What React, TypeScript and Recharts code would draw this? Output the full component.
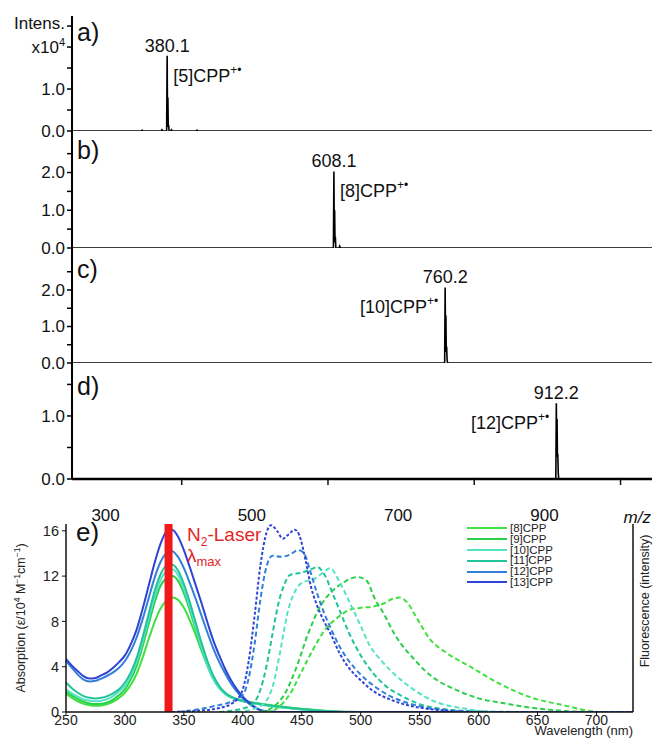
import React from 'react';
import { LineChart, Line, XAxis, YAxis, ReferenceDot, ReferenceLine, Legend } from 'recharts';

const FONT = '"Liberation Sans", Arial, Helvetica, sans-serif';

// ---------------- Mass spectra (panels a-d) ----------------
const msTicks = [300, 400, 500, 600, 700, 800, 900, 1000];
const msTickLabels = ['300', '', '500', '', '700', '', '900', ''];

const mzA = [250, 345, 346, 347, 372, 373, 374, 379.4, 380.1, 380.6, 381.1, 381.6, 382.1, 382.7, 385, 386, 387, 420, 421, 422, 1043];
const intA = [0, 0, 0.02, 0, 0, 0.03, 0, 0, 1.79, 0.25, 0.8, 0.1, 0.15, 0, 0, 0.03, 0, 0, 0.02, 0, 0];
const mzB = [250, 607.4, 608.1, 608.6, 609.1, 609.6, 610.1, 610.7, 615, 616, 617, 1043];
const intB = [0, 0, 2.03, 0.3, 1.0, 0.15, 0.3, 0, 0, 0.05, 0, 0];
const mzC = [250, 759.5, 760.2, 760.7, 761.2, 761.7, 762.2, 762.8, 763.5, 1043];
const intC = [0, 0, 2.07, 0.4, 1.3, 0.3, 0.45, 0.1, 0, 0];
const mzD = [250, 911.5, 912.2, 912.7, 913.2, 913.7, 914.2, 914.8, 915.5, 1043];
const intD = [0, 0, 1.2, 0.5, 0.95, 0.35, 0.4, 0.1, 0, 0];

const peakMz = [380.1, 608.1, 760.2, 912.2];
const peakInt = [1.79, 2.03, 2.07, 1.2];
const peakLabels = ['380.1', '608.1', '760.2', '912.2'];
const ionLabels = ['[5]CPP', '[8]CPP', '[10]CPP', '[12]CPP'];
const panelLetters = ['a)', 'b)', 'c)', 'd)'];

// ---------------- UV-vis / fluorescence (panel e) ----------------
const cppNames = ['[8]CPP', '[9]CPP', '[10]CPP', '[11]CPP', '[12]CPP', '[13]CPP'];
const cppColors = ['#3fe03f', '#2ccf4c', '#55e3c6', '#22c39b', '#2f80d6', '#2f44d6'];
const wlTicks = [250, 300, 350, 400, 450, 500, 550, 600, 650, 700];
const absTicks = [0, 4, 8, 12, 16];
const laserWl = 337;

const absWl = [250, 255, 260, 265, 270, 275, 280, 285, 290, 295, 300, 305, 310, 315, 320, 325, 330, 335, 340, 345, 350, 355, 360, 365, 370, 375, 380, 385, 390, 395, 400, 405, 410, 415, 420, 425, 430, 440, 450, 460, 470, 480, 490, 500, 731];
const abs8 = [1.6, 1.25, 0.95, 0.72, 0.6, 0.55, 0.58, 0.7, 0.92, 1.25, 1.7, 2.4, 3.4, 4.8, 6.4, 7.9, 9.1, 9.8, 10.1, 9.9, 9.2, 8.1, 6.8, 5.4, 4.1, 3.0, 2.2, 1.7, 1.35, 1.15, 1.0, 0.9, 0.82, 0.74, 0.66, 0.58, 0.52, 0.4, 0.29, 0.19, 0.11, 0.05, 0.02, 0, 0];
const abs9 = [1.8, 1.45, 1.15, 0.9, 0.75, 0.7, 0.72, 0.85, 1.1, 1.5, 2.0, 2.9, 4.1, 5.8, 7.7, 9.6, 11.1, 11.8, 12.0, 11.6, 10.5, 9.0, 7.3, 5.6, 4.1, 2.9, 2.1, 1.6, 1.3, 1.1, 0.95, 0.85, 0.76, 0.68, 0.6, 0.53, 0.46, 0.35, 0.24, 0.15, 0.08, 0.03, 0, 0, 0];
const abs10 = [2.0, 1.65, 1.35, 1.1, 1.0, 0.95, 1.0, 1.15, 1.4, 1.8, 2.3, 3.2, 4.5, 6.2, 8.2, 10.1, 11.6, 12.4, 12.6, 12.1, 10.9, 9.3, 7.5, 5.7, 4.1, 2.9, 2.1, 1.6, 1.3, 1.1, 0.95, 0.85, 0.75, 0.66, 0.58, 0.5, 0.44, 0.33, 0.22, 0.13, 0.07, 0.02, 0, 0, 0];
const abs11 = [2.6, 2.1, 1.7, 1.4, 1.25, 1.2, 1.25, 1.4, 1.65, 2.0, 2.6, 3.5, 4.8, 6.6, 8.6, 10.6, 12.1, 12.9, 13.0, 12.5, 11.3, 9.7, 7.9, 6.1, 4.5, 3.2, 2.3, 1.7, 1.35, 1.15, 1.0, 0.9, 0.8, 0.7, 0.62, 0.55, 0.48, 0.36, 0.25, 0.15, 0.08, 0.03, 0, 0, 0];
const abs12 = [4.5, 3.9, 3.3, 2.85, 2.7, 2.75, 2.95, 3.2, 3.5, 3.9, 4.5, 5.4, 6.6, 8.2, 10.0, 11.8, 13.2, 14.0, 14.2, 13.7, 12.7, 11.4, 10.0, 8.5, 7.0, 5.6, 4.4, 3.4, 2.5, 1.8, 1.2, 0.75, 0.4, 0.15, 0.05, 0.02, 0, 0, 0, 0, 0, 0, 0, 0, 0];
const abs13 = [4.7, 4.1, 3.6, 3.15, 2.95, 3.0, 3.25, 3.5, 3.9, 4.4, 5.0, 6.0, 7.3, 9.1, 11.1, 13.1, 14.8, 15.9, 16.1, 15.5, 14.3, 12.8, 11.2, 9.6, 7.9, 6.3, 5.0, 3.8, 2.8, 2.0, 1.35, 0.85, 0.45, 0.15, 0.05, 0.02, 0, 0, 0, 0, 0, 0, 0, 0, 0];
const absSeries = [abs8, abs9, abs10, abs11, abs12, abs13];

const fl8Wl = [420, 430, 440, 450, 460, 470, 480, 490, 500, 510, 520, 527, 533, 540, 547, 559, 573, 593, 616, 644, 672, 694, 705, 731];
const fl8 = [0, 0.4, 1.6, 3.6, 5.6, 7.3, 8.3, 9.0, 9.2, 9.3, 9.6, 10.0, 10.1, 9.6, 8.4, 6.4, 5.2, 4.0, 2.6, 1.3, 0.6, 0.1, 0, 0];
const fl9Wl = [415, 425, 435, 445, 455, 465, 475, 485, 492, 498, 505, 512, 520, 528, 535, 545, 555, 565, 580, 600, 620, 640, 660, 680, 700, 731];
const fl9 = [0, 0.4, 1.5, 3.8, 6.8, 9.2, 10.6, 11.4, 11.8, 11.9, 11.6, 10.0, 8.6, 7.0, 5.9, 4.7, 3.6, 2.8, 2.0, 1.2, 0.8, 0.45, 0.2, 0.05, 0, 0];
const fl10Wl = [395, 410, 420, 426, 432, 438, 445, 452, 460, 468, 474, 482, 491, 500, 508, 517, 525, 542, 559, 588, 615, 650, 731];
const fl10 = [0, 0.3, 1.0, 2.5, 5.5, 8.8, 10.8, 11.5, 11.7, 12.3, 12.7, 11.5, 9.6, 7.6, 5.8, 4.6, 3.7, 2.2, 1.1, 0.3, 0, 0, 0];
const fl11Wl = [380, 400, 410, 415, 420, 425, 430, 435, 440, 450, 458, 463, 470, 476, 482, 490, 500, 510, 520, 535, 550, 575, 600, 650, 731];
const fl11 = [0, 0.3, 0.9, 2.0, 4.0, 6.8, 9.5, 11.2, 12.1, 12.3, 12.6, 12.8, 12.0, 10.5, 9.0, 7.0, 5.0, 3.5, 2.4, 1.4, 0.7, 0.2, 0.05, 0, 0];
const fl12Wl = [345, 360, 375, 390, 400, 405, 410, 415, 420, 425, 432, 440, 447, 452, 457, 462, 468, 475, 482, 490, 500, 510, 525, 540, 555, 575, 600, 650, 731];
const fl12 = [0, 0.2, 0.5, 0.9, 1.5, 3.0, 6.0, 10.0, 12.8, 13.8, 13.7, 13.9, 14.3, 14.0, 12.5, 10.8, 9.0, 7.3, 5.8, 4.5, 3.3, 2.4, 1.4, 0.8, 0.4, 0.15, 0, 0, 0];
const fl13Wl = [340, 360, 380, 390, 395, 400, 405, 410, 415, 420, 424, 429, 434, 439, 444, 448, 453, 458, 463, 468, 475, 482, 490, 500, 510, 525, 540, 555, 575, 600, 650, 731];
const fl13 = [0, 0.1, 0.35, 0.7, 1.1, 2.0, 4.5, 8.5, 13.0, 15.8, 16.5, 16.0, 15.3, 15.7, 16.1, 15.6, 13.5, 11.0, 9.4, 8.2, 6.8, 5.2, 3.9, 2.8, 1.9, 1.1, 0.6, 0.3, 0.1, 0, 0, 0];
const flWls = [fl8Wl, fl9Wl, fl10Wl, fl11Wl, fl12Wl, fl13Wl];
const flSeries = [fl8, fl9, fl10, fl11, fl12, fl13];

const toRows = (xs: number[], ys: number[]) => xs.map((x, i) => ({ x, y: ys[i] }));

// ---------------- helpers ----------------
const MS_DOMAIN: [number, number] = [250, 1043];

const YTickMS = (props: any) => {
  const { x, y, payload, labels } = props;
  const lab = labels[String(payload.value)];
  if (!lab) return null;
  const common = { fontFamily: FONT, fontSize: 17, fill: '#111', textAnchor: 'end' as const };
  if (lab === 'x10^4') {
    return (
      <text x={x} y={y} dy="0.35em" {...common}>
        x10<tspan dy={-7} fontSize={11}>4</tspan>
      </text>
    );
  }
  if (lab === 'Intens.') {
    return <text x={x} y={y - 3} dy="0.35em" {...common}>{lab}</text>;
  }
  return <text x={x} y={y} dy="0.35em" {...common}>{lab}</text>;
};

const XTickMS = (props: any) => {
  const { x, y, payload } = props;
  const idx = msTicks.indexOf(payload.value);
  const lab = msTickLabels[idx];
  return (
    <g>
      {!lab && <line x1={x} x2={x} y1={y} y2={y + 6} stroke="#111" strokeWidth={1.5} />}
      {lab && (
        <text x={x - 3} y={y + 42} textAnchor="middle" fontFamily={FONT} fontSize={17} fill="#111">
          {lab}
        </text>
      )}
    </g>
  );
};

const PeakText = (props: any) => {
  const { viewBox, num, ion, side } = props;
  if (!viewBox) return null;
  const cx = viewBox.x + (viewBox.width || 0) / 2;
  const cy = viewBox.y + (viewBox.height || 0) / 2;
  const right = side === 'right';
  return (
    <g>
      <text x={cx} y={cy - 4} textAnchor="middle" fontFamily={FONT} fontSize={18} fill="#111">
        {num}
      </text>
      <text x={right ? cx + 6 : cx - 7} y={cy + 26} textAnchor={right ? 'start' : 'end'} fontFamily={FONT} fontSize={18} fill="#111">
        {ion}
        <tspan dy={-8} fontSize={12}>+•</tspan>
      </text>
    </g>
  );
};

type PanelProps = {
  top: number;
  bottom: number;
  yMax: number;
  yTicks: number[];
  labels: Record<string, string>;
  data: { x: number; y: number }[];
  idx: number;
  side: 'left' | 'right';
  showX: boolean;
};

const MSPanel = ({ top, bottom, yMax, yTicks, labels, data, idx, side, showX }: PanelProps) => {
  const mTop = 14;
  const mBottom = showX ? 0 : 12;
  const xH = showX ? 50 : 0;
  const h = mTop + (bottom - top) + mBottom + xH;
  return (
    <div style={{ position: 'absolute', left: 0, top: top - mTop, width: 655, height: h }}>
      <LineChart width={655} height={h} margin={{ top: mTop, right: 3, bottom: mBottom, left: 0 }}>
        <XAxis
          xAxisId="b"
          dataKey="x"
          type="number"
          domain={MS_DOMAIN}
          allowDataOverflow
          ticks={showX ? msTicks : []}
          interval={0}
          height={xH}
          tickLine={false}
          tickSize={0}
          tickMargin={0}
          tick={showX ? (p: any) => <XTickMS {...p} /> : false}
          axisLine={{ stroke: '#000', strokeWidth: 2.5 }}
        />
        <XAxis
          xAxisId="t"
          orientation="top"
          type="number"
          domain={MS_DOMAIN}
          allowDataOverflow
          height={0}
          tick={false}
          tickLine={false}
          axisLine={{ stroke: '#333', strokeWidth: 1.5 }}
        />
        <YAxis
          yAxisId="l"
          type="number"
          domain={[0, yMax]}
          allowDataOverflow
          ticks={yTicks}
          interval={0}
          width={72}
          tickSize={5}
          tickMargin={2}
          tickLine={{ stroke: '#000', strokeWidth: 1.5 }}
          axisLine={{ stroke: '#000', strokeWidth: 2 }}
          tick={(p: any) => <YTickMS {...p} labels={labels} />}
        />
        <YAxis
          yAxisId="r"
          orientation="right"
          type="number"
          domain={[0, yMax]}
          allowDataOverflow
          width={0}
          tick={false}
          tickLine={false}
          axisLine={{ stroke: '#333', strokeWidth: 1.5 }}
        />
        <Line
          xAxisId="b"
          yAxisId="l"
          data={data}
          dataKey="y"
          type="linear"
          stroke="#000"
          strokeWidth={1.6}
          dot={false}
          isAnimationActive={false}
        />
        <ReferenceDot
          xAxisId="b"
          yAxisId="l"
          x={peakMz[idx]}
          y={peakInt[idx]}
          r={0}
          fill="none"
          stroke="none"
          label={<PeakText num={peakLabels[idx]} ion={ionLabels[idx]} side={side} />}
        />
      </LineChart>
    </div>
  );
};

const LegendBox = () => (
  <div style={{ fontFamily: FONT, fontSize: 11.5, color: '#222' }}>
    {cppNames.map((n, i) => (
      <div key={n} style={{ display: 'flex', alignItems: 'center', height: 10.8, lineHeight: '10.8px' }}>
        <span style={{ display: 'inline-block', width: 40, height: 2, background: cppColors[i], marginRight: 3 }} />
        <span>{n}</span>
      </div>
    ))}
  </div>
);

export default function App() {
  const msData = [toRows(mzA, intA), toRows(mzB, intB), toRows(mzC, intC), toRows(mzD, intD)];
  return (
    <div style={{ position: 'absolute', left: 0, top: 0, width: 655, height: 740, background: '#fff', overflow: 'hidden' }}>
      <MSPanel top={16} bottom={131} yMax={2.74} yTicks={[0, 0.5, 1, 1.5, 2, 2.5]} labels={{ '0': '0.0', '1': '1.0', '2': 'x10^4', '2.5': 'Intens.' }} data={msData[0]} idx={0} side="right" showX={false} />
      <MSPanel top={131} bottom={248} yMax={3.1} yTicks={[0, 0.5, 1, 1.5, 2, 2.5]} labels={{ '0': '0.0', '1': '1.0', '2': '2.0' }} data={msData[1]} idx={1} side="right" showX={false} />
      <MSPanel top={248} bottom={363} yMax={3.15} yTicks={[0, 0.5, 1, 1.5, 2, 2.5]} labels={{ '0': '0.0', '1': '1.0', '2': '2.0' }} data={msData[2]} idx={2} side="left" showX={false} />
      <MSPanel top={363} bottom={479} yMax={1.84} yTicks={[0, 0.5, 1, 1.5]} labels={{ '0': '0.0', '1': '1.0' }} data={msData[3]} idx={3} side="left" showX={true} />

      <div style={{ position: 'absolute', left: 0, top: 500, width: 655, height: 240 }}>
        <LineChart width={655} height={240} margin={{ top: 24, right: 0, bottom: 0, left: 0 }}>
          <XAxis
            xAxisId="x"
            dataKey="x"
            type="number"
            domain={[250, 731]}
            allowDataOverflow
            ticks={wlTicks}
            interval={0}
            height={28}
            tickSize={3}
            tickMargin={0}
            tick={{ fontSize: 14, fill: '#222', fontFamily: FONT }}
            tickLine={{ stroke: '#111' }}
            axisLine={{ stroke: '#111', strokeWidth: 1.5 }}
          />
          <XAxis
            xAxisId="top"
            orientation="top"
            type="number"
            domain={[250, 731]}
            allowDataOverflow
            height={0}
            tick={false}
            tickLine={false}
            axisLine={{ stroke: '#aaa', strokeWidth: 1 }}
          />
          <YAxis
            yAxisId="abs"
            type="number"
            domain={[0, 16.6]}
            allowDataOverflow
            ticks={absTicks}
            interval={0}
            width={66}
            tickSize={4}
            tickMargin={3}
            tick={{ fontSize: 14.5, fill: '#222', fontFamily: FONT }}
            tickLine={{ stroke: '#111' }}
            axisLine={{ stroke: '#111', strokeWidth: 1.5 }}
          />
          <YAxis
            yAxisId="fl"
            orientation="right"
            type="number"
            domain={[0, 16.6]}
            allowDataOverflow
            width={22}
            tick={false}
            tickLine={false}
            axisLine={{ stroke: '#111', strokeWidth: 1.5 }}
          />
          {absSeries.map((vals, i) => (
            <Line
              key={'abs' + i}
              xAxisId="x"
              yAxisId="abs"
              data={toRows(absWl, vals)}
              dataKey="y"
              name={cppNames[i]}
              type="monotone"
              stroke={cppColors[i]}
              strokeWidth={2}
              dot={false}
              isAnimationActive={false}
            />
          ))}
          {flSeries.map((vals, i) => (
            <Line
              key={'fl' + i}
              xAxisId="x"
              yAxisId="fl"
              data={toRows(flWls[i], vals)}
              dataKey="y"
              name={cppNames[i] + ' fl'}
              type="monotone"
              stroke={cppColors[i]}
              strokeWidth={2}
              strokeDasharray={i === 5 ? '3 2' : '5 3'}
              dot={false}
              legendType="none"
              isAnimationActive={false}
            />
          ))}
          <ReferenceLine xAxisId="x" yAxisId="abs" x={laserWl} stroke="#f01818" strokeWidth={8} />
          <Legend
            layout="vertical"
            align="center"
            verticalAlign="middle"
            content={() => <LegendBox />}
            wrapperStyle={{ left: 467, top: 23, width: 120, height: 66 }}
          />
        </LineChart>
      </div>

      <svg width={655} height={740} style={{ position: 'absolute', left: 0, top: 0, pointerEvents: 'none' }}>
        <g fontFamily={FONT} fill="#111">
          {panelLetters.map((t, i) => (
            <text key={t} x={77} y={[41, 159, 278, 395][i]} fontSize={25}>{t}</text>
          ))}
          <text x={76} y={541} fontSize={26}>e)</text>
          <text x={651} y={523} fontSize={17} fontStyle="italic" textAnchor="end">m/z</text>
          <text x={633} y={735} fontSize={13} textAnchor="end" fill="#222">Wavelength (nm)</text>
          <text transform="translate(25,618) rotate(-90)" fontSize={12.5} textAnchor="middle" fill="#222">
            Absorption (ε/10<tspan dy={-5} fontSize={8.5}>4</tspan>
            <tspan dy={5}> M</tspan>
            <tspan dy={-5} fontSize={8.5}>−1</tspan>
            <tspan dy={5}>cm</tspan>
            <tspan dy={-5} fontSize={8.5}>−1</tspan>
            <tspan dy={5}>)</tspan>
          </text>
          <text transform="translate(649,601) rotate(-90)" fontSize={12.5} textAnchor="middle" fill="#222">
            Fluorescence (intensity)
          </text>
        </g>
        <g fontFamily={FONT} fill="#e32626">
          <text x={187} y={541} fontSize={19}>
            N<tspan dy={5} fontSize={12}>2</tspan><tspan dy={-5}>-Laser</tspan>
          </text>
          <text x={187} y={562} fontSize={19}>
            λ<tspan dy={4} fontSize={13}>max</tspan>
          </text>
        </g>
      </svg>
    </div>
  );
}
